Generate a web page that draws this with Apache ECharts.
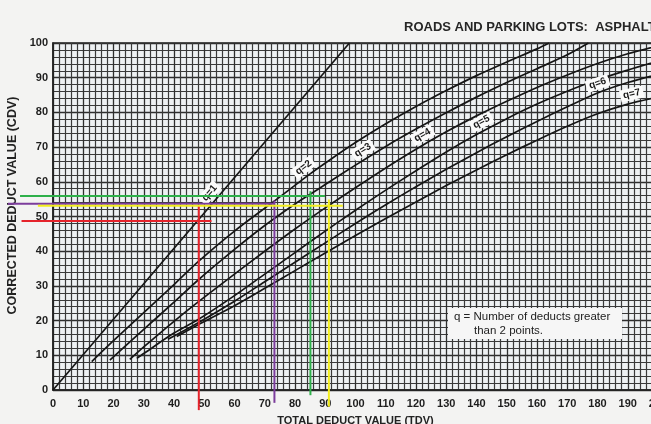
<!DOCTYPE html>
<html>
<head>
<meta charset="utf-8">
<script src="https://cdn.jsdelivr.net/npm/echarts@6/dist/echarts.min.js"></script>
<style>
html,body{margin:0;padding:0;background:#f3f3f2;}
#c{width:651px;height:424px;}
</style>
</head>
<body>
<div id="c"></div>
<script>
// ---- data (TDV, CDV) ----
const q1 = [[0,0],[98,100]];
const q2 = [[12.8,8.2],[20,14.2],[30,22.3],[40,30.4],[48,37],[60,45.8],[74,55],[85,62.3],[91.5,66.3],[100,71.3],[110,76.7],[120,81.7],[130,86.3],[140,90.6],[150,94.5],[160,98.3],[164,100]];
const q3 = [[18.8,8.6],[30,17.5],[40,25.3],[48,31.7],[60,40.5],[70,47.4],[80,53.6],[85,56.4],[90,59.2],[100,64.8],[110,70.2],[120,75.2],[130,79.9],[140,84.4],[150,88.6],[160,92.6],[170,96.6],[177,100]];
const q4 = [[25.4,8.8],[30,12.4],[40,19.8],[48,25.4],[60,33.4],[70,40],[80,46.4],[91.2,53.2],[100,58.3],[110,64],[120,69.4],[130,74.4],[140,79],[150,83.2],[160,87.2],[170,90.8],[180,94.1],[190,96.9],[200,99.2]];
const q5 = [[27.7,9.1],[30,10.5],[40,16.4],[48,20.3],[60,27.2],[70,33.4],[80,39.6],[90,45.8],[100,51.8],[110,57.6],[120,63.2],[130,68.6],[140,73.6],[150,78.2],[160,82.4],[170,86.1],[180,89.4],[190,92.2],[200,94.8]];
const q6 = [[38,14.6],[48,19.4],[60,25.6],[70,31.2],[80,36.8],[90,42.4],[100,48],[110,53.4],[120,58.6],[130,63.6],[140,68.4],[150,73],[160,77.4],[170,81.6],[180,85.6],[190,88.6],[200,91]];
const q7 = [[40.9,15.4],[48,18.8],[60,24.3],[70,29.3],[80,34.4],[90,39.5],[100,44.5],[110,49.4],[120,54.2],[130,58.9],[140,63.4],[150,67.8],[160,72],[170,76],[180,79.6],[190,82.4],[200,84.4]];
const curves = [q1,q2,q3,q4,q5,q6,q7];
const curveNames = ['q=1','q=2','q=3','q=4','q=5','q=6','q=7'];
const labelTdv = [54,84.6,104,123.6,143,181,192];

// reading lines (TDV, CDV) drawn on the chart
const readTdv = [48.2, 73.2, 85.1, 91.2];
const readCdv = [48.7, 53.7, 55.9, 53.1];
const readColors = ['#e5232b','#7c3c9c','#2eb04a','#f3ee1e'];
// how far each reading line runs past the axes / past the crossing (in axis units)
const hStart = [-10.4,-14.9,-10.9,-5];
const hOver  = [4.2,0,4.8,4.6];
const vOver  = [4.3,0.9,1.4,1.8];
const vEnd   = [-5.8,-3.7,-1.5,-4.8];

const FONT = 'Liberation Sans, Arial, sans-serif';
const tickFont = {fontFamily:FONT, fontSize:11, color:'#1e1e1e', fontWeight:'bold'};
const LABEL_GAP = 9; // px between curve and its tag

function interp(arr, x){
  for(let i=0;i<arr.length-1;i++){
    const a=arr[i], b=arr[i+1];
    if(x>=a[0] && x<=b[0]){
      const t=(x-a[0])/(b[0]-a[0]);
      return [a[1]+t*(b[1]-a[1]), (b[1]-a[1])/(b[0]-a[0])];
    }
  }
  const a=arr[arr.length-2], b=arr[arr.length-1];
  return [b[1], (b[1]-a[1])/(b[0]-a[0])];
}

const chart = echarts.init(document.getElementById('c'), null, {renderer:'canvas'});
const gridW = 605, gridH = 347;

const series = [];
curves.forEach((c,i)=>{
  series.push({type:'line', data:c, smooth: i>0 ? 0.3 : false, showSymbol:false,
    lineStyle:{color:'#161616', width:1.7}, z:3, silent:true});
});

chart.setOption({
  animation:false,
  backgroundColor:'#f3f3f2',
  title:{text:'ROADS AND PARKING LOTS:  ASPHALT', left:399, top:16,
    textStyle:{fontFamily:FONT, fontSize:13, fontWeight:'bold', color:'#262626'}},
  grid:{left:53, top:43, width:gridW, height:gridH, outerBoundsMode:'none', containLabel:false,
    show:true, backgroundColor:'#eef1f3', borderColor:'#222', borderWidth:1.5},
  xAxis:{type:'value', min:0, max:200, interval:10,
    name:'TOTAL DEDUCT VALUE (TDV)', nameLocation:'middle', nameGap:25,
    nameTextStyle:{fontFamily:FONT, fontSize:11, fontWeight:'bold', color:'#222'},
    axisLine:{show:true, lineStyle:{color:'#222', width:1.5}}, axisTick:{show:false},
    axisLabel:Object.assign({margin:8, showMaxLabel:true, hideOverlap:false}, tickFont),
    splitLine:{show:true, lineStyle:{color:'#2e2e2e', width:1.3}},
    minorTick:{show:false, splitNumber:5},
    minorSplitLine:{show:true, lineStyle:{color:'#3a3a3a', width:1.2}}},
  yAxis:{type:'value', min:0, max:100, interval:10,
    name:'CORRECTED DEDUCT VALUE (CDV)', nameLocation:'middle', nameGap:30,
    nameTextStyle:{fontFamily:FONT, fontSize:12.5, fontWeight:'bold', color:'#222', padding:[0,0,0,22]},
    axisLine:{show:true, lineStyle:{color:'#222', width:1.5}}, axisTick:{show:false},
    axisLabel:Object.assign({margin:5}, tickFont),
    splitLine:{show:true, lineStyle:{color:'#2e2e2e', width:1.3}},
    minorTick:{show:false, splitNumber:5},
    minorSplitLine:{show:true, lineStyle:{color:'#3a3a3a', width:1.2}}},
  series:series
});

const g = [];
// curve tags, placed through the chart's scales
curves.forEach((c,i)=>{
  const r = interp(c, labelTdv[i]);
  const p0 = chart.convertToPixel({gridIndex:0}, [labelTdv[i], r[0]]);
  const p1 = chart.convertToPixel({gridIndex:0}, [labelTdv[i]+1, r[0]+r[1]]);
  const a = Math.atan2(p0[1]-p1[1], p1[0]-p0[0]);
  g.push({type:'text', z:15, x:p0[0]-Math.sin(a)*LABEL_GAP, y:p0[1]-Math.cos(a)*LABEL_GAP, rotation:a,
    style:{text:curveNames[i], font:'bold 10px '+FONT, fill:'#1a1a1a', align:'center', verticalAlign:'middle',
      backgroundColor:'#fbfbfb', padding:[1,3]}});
});
// reading lines
readTdv.forEach((t,i)=>{
  const cdv = readCdv[i];
  const h1 = chart.convertToPixel({gridIndex:0}, [hStart[i], cdv]);
  const h2 = chart.convertToPixel({gridIndex:0}, [t+hOver[i], cdv]);
  const v1 = chart.convertToPixel({gridIndex:0}, [t, cdv+vOver[i]]);
  const v2 = chart.convertToPixel({gridIndex:0}, [t, vEnd[i]]);
  g.push({type:'line', z:20, shape:{x1:h1[0], y1:h1[1], x2:h2[0], y2:h2[1]}, style:{stroke:readColors[i], lineWidth:2}});
  g.push({type:'line', z:20, shape:{x1:v1[0], y1:v1[1], x2:v2[0], y2:v2[1]}, style:{stroke:readColors[i], lineWidth:2}});
});
g.push({type:'rect', left:448, top:308, z:10, shape:{width:174, height:31}, style:{fill:'#f6f6f6'}});
g.push({type:'text', left:454, top:311, z:11, style:{text:'q = Number of deducts greater', font:'11.5px '+FONT, fill:'#222'}});
g.push({type:'text', left:474, top:325, z:11, style:{text:'than 2 points.', font:'11.5px '+FONT, fill:'#222'}});
chart.setOption({graphic:g});
</script>
</body>
</html>
